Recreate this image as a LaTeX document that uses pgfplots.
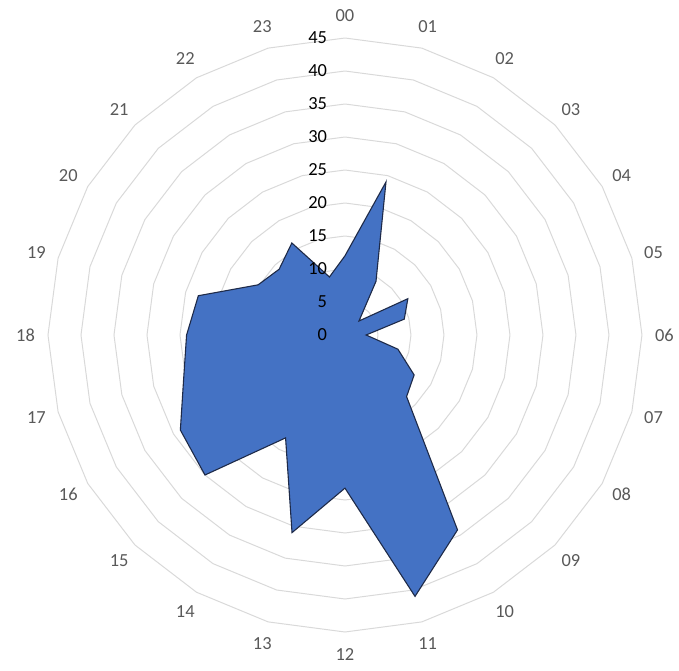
\documentclass[border=0pt]{standalone}
\usepackage{pgfplots}
\usepackage{pgfplotstable}
\pgfplotsset{compat=1.18}
\usepackage{fontspec}
\setmainfont{Carlito}
\definecolor{fillblue}{RGB}{68,114,196}
\definecolor{edgeblue}{RGB}{30,42,72}
\definecolor{gridgray}{RGB}{217,217,217}
\definecolor{labgray}{RGB}{89,89,89}
\pgfplotstableread{
k r
0 12
1 24
2 9.4
3 3
4 11
5 9.3
6 3.2
7 8.3
8 12.1
9 13.2
10 34.1
11 41
12 23.2
13 31
14 18
15 30
16 28.8
17 25.3
18 24
19 23
20 15.2
21 14.1
22 16.1
23 9.1
}\datatable
\begin{document}
\begin{tikzpicture}
\begin{axis}[
  x=6.6bp, y=6.6bp,
  scale only axis,
  xmin=-52.27, xmax=50.61,
  ymin=-50.76, ymax=50.76,
  hide axis,
  clip=false,
]
\path (axis cs:-52.27,-50.76) rectangle (axis cs:50.61,50.76);
\pgfplotsinvokeforeach{5,10,15,20,25,30,35,40,45}{
  \draw[gridgray, line width=1bp] (axis cs:0,#1) \foreach \a in {15,30,...,345}{ -- (axis cs:{#1*sin(\a)},{#1*cos(\a)}) } -- cycle;
}
\addplot[fill=fillblue, draw=edgeblue, line width=1.1bp, mark=none]
  table[x expr={\thisrow{r}*sin(15*\thisrow{k})}, y expr={\thisrow{r}*cos(15*\thisrow{k})}] {\datatable} -- cycle;
\pgfplotsinvokeforeach{0,5,10,15,20,25,30,35,40,45}{
  \node[anchor=east, inner sep=0pt, text=black, font=\fontsize{18.5}{21}\selectfont] at (axis cs:-2.7,#1) {#1};
}
\pgfplotsinvokeforeach{0,1,2,3,4,5,6,7,8,9,10,11,12,13,14,15,16,17,18,19,20,21,22,23}{
  \node[anchor=center, inner sep=0pt, text=labgray, font=\fontsize{18.5}{21}\selectfont] at (axis cs:{48.4*sin(15*#1)},{48.4*cos(15*#1)}) {\ifnum#1<10 0\fi#1};
}
\end{axis}
\end{tikzpicture}
\end{document}
